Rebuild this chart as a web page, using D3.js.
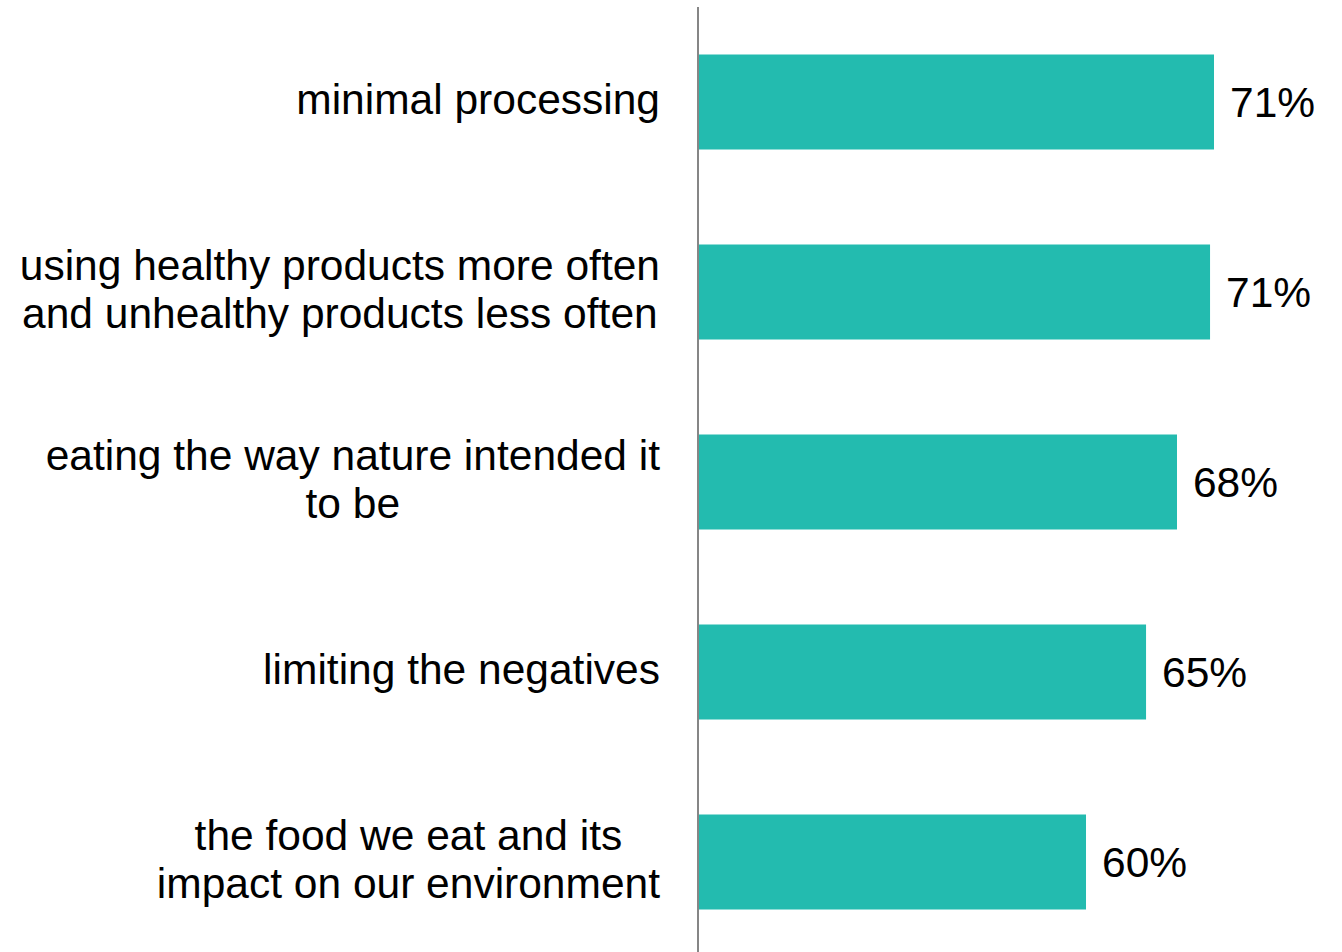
<!DOCTYPE html>
<html>
<head>
<meta charset="utf-8">
<script src="https://cdn.jsdelivr.net/npm/d3@7"></script>
<style>
  body { margin: 0; background: #fff; }
  svg text { font-family: "Liberation Sans", Arial, sans-serif; fill: #000; }
</style>
</head>
<body>
<div id="chart"></div>
<script>
// category labels, split into the lines they wrap to
const categories = [
    ['minimal processing'],
    ['using healthy products more often', 'and unhealthy products less often'],
    ['eating the way nature intended it', 'to be'],
    ['limiting the negatives'],
    ['the food we eat and its', 'impact on our environment']
];
// bar lengths (percent)
const values = [71, 70.66, 67.82, 65.16, 60];
// the data labels as printed
const valueLabels = ['71%', '71%', '68%', '65%', '60%'];
// axis starts well above zero in the original
const xMin = 26.74;

function createBarChart() {
    const width = 1342;
    const height = 952;
    const axisX = 698;
    const labelRight = 660;
    const fontSize = 42.5;
    const lineHeight = 47.6;

    const svg = d3
      .select('#chart')
      .append('svg')
      .attr('width', width)
      .attr('height', height);

    const yScale = d3
      .scaleBand()
      .domain(d3.range(categories.length))
      .range([7, 957])
      .paddingInner(0.5)
      .paddingOuter(0.25);

    const xScale = d3.scaleLinear().domain([xMin, 71]).range([axisX + 1, 1214]);

    const rows = svg
      .selectAll('g.row')
      .data(values)
      .join('g')
      .attr('class', 'row');

    rows.append('rect')
      .attr('x', xScale(xMin))
      .attr('y', (d, i) => yScale(i))
      .attr('width', (d) => xScale(d) - xScale(xMin))
      .attr('height', yScale.bandwidth())
      .attr('fill', '#23bbaf');

    rows.append('text')
      .attr('x', (d) => xScale(d) + 16)
      .attr('y', (d, i) => yScale(i) + yScale.bandwidth() / 2)
      .attr('dy', '0.345em')
      .style('font-size', fontSize + 'px')
      .text((d, i) => valueLabels[i]);

    // category labels: block right-aligned, lines centred in the block
    categories.forEach((lines, i) => {
        const cy = yScale(i) + yScale.bandwidth() / 2;
        const g = svg.append('g');
        const texts = lines.map((line, j) =>
            g.append('text')
              .attr('y', cy + (j - (lines.length - 1) / 2) * lineHeight)
              .attr('dy', '0.28em')
              .attr('text-anchor', 'middle')
              .style('font-size', fontSize + 'px')
              .text(line)
        );
        const maxW = d3.max(texts, (t) => t.node().getComputedTextLength());
        texts.forEach((t) => t.attr('x', labelRight - maxW / 2));
    });

    svg.append('line')
      .attr('x1', axisX)
      .attr('x2', axisX)
      .attr('y1', 7)
      .attr('y2', height)
      .attr('stroke', '#868686')
      .attr('stroke-width', 2);
}

createBarChart();
</script>
</body>
</html>
